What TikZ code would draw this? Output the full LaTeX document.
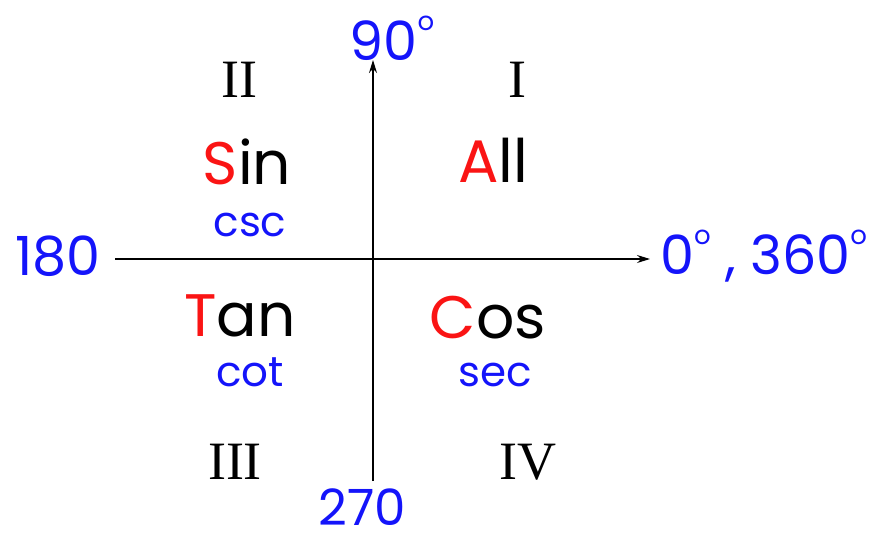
\documentclass[tikz,border=0pt]{standalone}
\usepackage{fontspec}
\setmainfont{Liberation Serif}
\newfontfamily\hand{Poppins}
\definecolor{hblue}{RGB}{20,20,250}
\definecolor{hred}{RGB}{250,20,20}
\newcommand\dgr{\raisebox{0.55em}{\fontsize{26}{26}\selectfont o}}
\usetikzlibrary{arrows.meta}
\tikzset{
  roman/.style={font=\fontsize{54}{54}\selectfont, inner sep=0pt},
  fn/.style={font=\hand\fontsize{60}{60}\selectfont, inner sep=0pt},
  rc/.style={font=\hand\fontsize{42}{42}\selectfont, text=hblue, inner sep=0pt},
  deg/.style={font=\hand\fontsize{54}{54}\selectfont, text=hblue, inner sep=0pt},
  axis/.style={line width=1.3pt, -{Stealth[length=13pt,width=8pt]}},
}
\begin{document}
\begin{tikzpicture}[x=1pt,y=-1pt]
\useasboundingbox (0,0) rectangle (886,544);
\coordinate (xl) at (115,259);
\coordinate (xr) at (650,259);
\coordinate (yb) at (373,481);
\coordinate (yt) at (373,60);
\draw[axis] (xl) -- (xr);
\draw[axis] (yb) -- (yt);
\node[roman] (q1) at (517,80) {I};
\node[roman] (q2) at (239,80) {II};
\node[roman] (q3) at (235,462) {III};
\node[roman] (q4) at (528,462) {IV};
\node[fn] (sin) at (247,162) {\textcolor{hred}{S}in};
\node[rc] (csc) at (250,225) {csc};
\node[fn] (all) at (493,160) {\textcolor{hred}{A}ll};
\node[fn] (tan) at (240,316) {\textcolor{hred}{T}an};
\node[rc] (cot) at (250,372) {cot};
\node[fn] (cos) at (488,318) {\textcolor{hred}{C}os};
\node[rc] (sec) at (495,375) {sec};
\node[deg] (d180) at (58,256) {180};
\node[deg, anchor=west] (d0) at (660,256) {0\dgr\ , 360\dgr};
\node[deg] (d90) at (392,38) {90\dgr};
\node[deg, font=\hand\fontsize{50}{50}\selectfont] (d270) at (362,507) {270};
\end{tikzpicture}
\end{document}
